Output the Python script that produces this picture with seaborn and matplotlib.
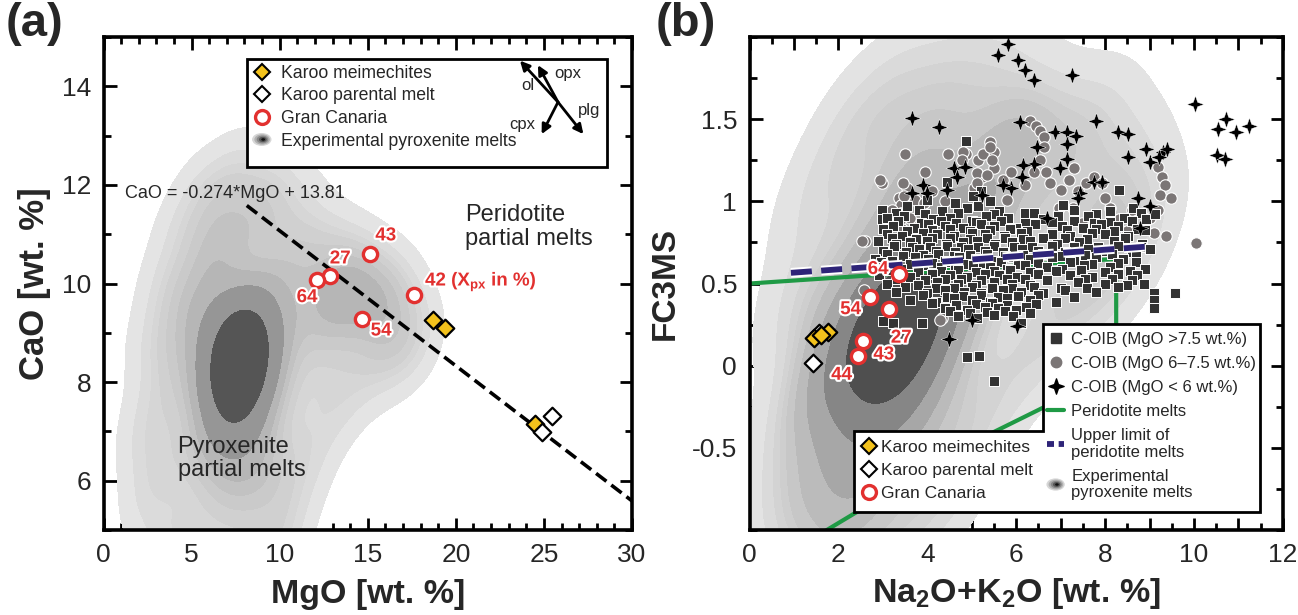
import numpy as np
import pandas as pd
import matplotlib
matplotlib.use("Agg")
import matplotlib.pyplot as plt
import seaborn as sns
from matplotlib.patches import Ellipse, Polygon, Rectangle
from matplotlib.legend_handler import HandlerBase
from matplotlib.lines import Line2D
from matplotlib.path import Path
from matplotlib.colors import LinearSegmentedColormap
from matplotlib.ticker import MultipleLocator, FixedLocator, FuncFormatter
import matplotlib.patheffects as pe

# ------------------------------------------------------------------ data (a)
karoo_mei_mgo = [18.68, 19.39, 24.5]
karoo_mei_cao = [9.25, 9.09, 7.15]
karoo_par_mgo = [25.44, 24.9]
karoo_par_cao = [7.31, 6.99]
gc_mgo = [15.15, 12.84, 12.14, 17.62, 14.65]
gc_cao = [10.60, 10.16, 10.08, 9.76, 9.29]
gc_labels_a = ["43", "27", "64", "42 (X$_{\\mathbf{px}}$ in %)", "54"]
fit_slope = -0.274
fit_intercept = 13.81
fit_mgo = [8.13, 30.0]

# estimated experimental pyroxenite melts (MgO, CaO) behind the density shading
exp_a = [
    (7.7, 8.4), (7.4, 8.1), (8.0, 8.7), (7.5, 8.9), (7.9, 8.0), (7.3, 8.6), (8.2, 8.3),
    (7.7, 7.7), (7.6, 9.3), (8.0, 9.0), (7.2, 7.9), (7.4, 7.4), (8.2, 7.8), (7.8, 8.5),
    (7.3, 9.1), (8.3, 8.9), (7.6, 8.0), (7.9, 9.5), (7.1, 8.4), (8.0, 7.2), (7.6, 8.6),
    (7.8, 8.2), (7.7, 9.0), (7.5, 7.8),
    (6.4, 9.6), (6.6, 10.4), (8.8, 10.0), (9.2, 9.2), (9.4, 8.3), (6.0, 8.8), (5.9, 7.6),
    (6.2, 6.8), (6.9, 6.6), (8.2, 6.5), (9.0, 7.0), (9.8, 9.8), (10.3, 8.8), (5.4, 9.5),
    (7.2, 10.9), (8.4, 11.2), (6.1, 11.0), (10.2, 10.6), (11.0, 9.6), (5.1, 6.6), (6.5, 5.9),
    (7.6, 5.8), (8.8, 6.0), (4.9, 7.8), (5.0, 8.9), (10.6, 7.8), (9.5, 6.3), (5.6, 10.3),
    (6.9, 11.8), (9.1, 11.4), (7.0, 7.0), (8.6, 7.5), (6.5, 8.2), (8.9, 8.6),
    (3.2, 6.2), (2.8, 7.5), (2.7, 8.8), (3.4, 10.0), (4.3, 11.1), (5.6, 11.9), (7.8, 12.4),
    (9.6, 12.1), (11.1, 11.6), (12.5, 10.9), (13.8, 10.5), (15.1, 10.2), (16.2, 9.9),
    (17.0, 9.5), (17.8, 8.9), (16.8, 8.5), (15.3, 8.3), (13.8, 7.7), (12.4, 7.1), (11.5, 6.3),
    (10.6, 5.5), (9.6, 4.9), (8.0, 4.7), (6.2, 4.7), (4.4, 5.1), (3.6, 4.5), (2.3, 6.8),
    (3.9, 8.4), (12.2, 9.2), (13.2, 9.6), (14.4, 9.3), (16.0, 9.1), (11.4, 10.5), (4.4, 9.6),
    (10.0, 4.3), (2.4, 5.5), (12.8, 8.4), (13.5, 10.2), (14.5, 9.8), (12.8, 9.6), (15.5, 9.6),
]

# ------------------------------------------------------------------ data (b)
karoo_mei_alk = [1.45, 1.77, 1.60]
karoo_mei_fc3 = [0.167, 0.207, 0.185]
karoo_par_alk = [1.43, 1.56]
karoo_par_fc3 = [0.017, 0.20]
gc_alk = [3.36, 2.71, 3.13, 2.55, 2.43]
gc_fc3 = [0.56, 0.417, 0.345, 0.15, 0.06]
gc_labels_b = ["64", "54", "27", "43", "44"]

perid_alk = [0.0, 8.25, 8.25, 6.72, 5.0, 1.0]
perid_fc3 = [0.50, 0.65, -0.62, -0.24, -0.47, -1.12]
upper_alk = [0.93, 9.01]
upper_fc3 = [0.565, 0.726]

coib_hi = [
    (4.86, 1.37), (4.44, 1.12), (5.2, 1.06), (8.31, 1.07), (2.99, 0.95), (2.99, 0.89),
    (4.0, 1.01), (4.62, 0.99), (5.02, 1.03), (5.42, 1.0), (7.05, 0.98), (3.55, 0.97),
    (3.82, 0.95), (4.32, 0.94), (4.9, 0.96), (5.62, 0.94), (6.2, 0.93), (7.3, 0.95), (8.1, 0.94),
    (8.62, 0.96), (5.15, 0.97),
    (3.3, 0.93), (3.95, 0.92), (4.7, 0.93), (5.5, 0.92), (6.4, 0.93), (7.8, 0.92), (8.8, 0.93),
    (3.1, 0.9), (3.48, 0.91), (4.12, 0.89), (4.52, 0.9), (5.0, 0.88), (5.32, 0.91), (5.82, 0.9),
    (6.6, 0.89), (7.62, 0.91), (8.42, 0.9), (8.92, 0.89), (9.12, 0.92), (6.95, 0.91),
    (3.35, 0.88), (3.85, 0.87), (4.3, 0.88), (4.65, 0.87), (5.1, 0.875), (5.65, 0.88),
    (6.2, 0.87), (6.8, 0.875), (7.3, 0.88), (7.75, 0.87), (8.1, 0.875), (8.6, 0.88),
    (3.22, 0.85), (3.7, 0.84), (4.02, 0.86), (4.4, 0.85), (4.8, 0.84), (5.2, 0.86), (5.5, 0.85),
    (6.0, 0.84), (6.42, 0.86), (7.02, 0.85), (7.5, 0.84), (7.9, 0.86), (8.3, 0.85), (8.72, 0.83),
    (3.0, 0.83), (3.55, 0.82), (4.1, 0.825), (4.5, 0.83), (4.95, 0.82), (5.4, 0.825),
    (5.85, 0.83), (6.25, 0.82), (7.15, 0.825), (7.8, 0.83), (8.2, 0.82), (8.9, 0.825),
    (3.1, 0.8), (3.42, 0.79), (3.9, 0.81), (4.22, 0.8), (4.6, 0.79), (5.0, 0.81), (5.3, 0.8),
    (5.72, 0.79), (6.1, 0.81), (6.8, 0.8), (7.22, 0.79), (7.7, 0.81), (8.0, 0.8), (8.52, 0.79),
    (3.2, 0.78), (3.75, 0.77), (4.1, 0.775), (4.5, 0.78), (4.95, 0.77), (5.35, 0.775),
    (5.75, 0.78), (6.15, 0.77), (6.6, 0.775), (7.1, 0.78), (7.6, 0.77), (8.45, 0.775),
    (2.9, 0.76), (3.3, 0.74), (3.62, 0.75), (4.0, 0.76), (4.42, 0.74), (4.8, 0.75), (5.12, 0.76),
    (5.52, 0.74), (5.9, 0.75), (6.3, 0.76), (6.92, 0.74), (7.42, 0.75), (8.2, 0.76), (8.82, 0.74),
    (3.25, 0.73), (3.65, 0.72), (4.05, 0.725), (4.45, 0.73), (4.75, 0.72), (5.15, 0.725),
    (5.5, 0.73), (5.95, 0.72), (6.35, 0.725), (6.8, 0.73), (7.3, 0.72), (7.85, 0.725),
    (8.3, 0.73), (8.8, 0.72),
    (3.0, 0.7), (3.52, 0.69), (3.82, 0.71), (4.2, 0.7), (4.62, 0.69), (4.92, 0.71), (5.3, 0.7),
    (5.7, 0.69), (6.12, 0.71), (6.5, 0.7), (7.1, 0.69), (7.62, 0.71), (8.02, 0.7), (8.6, 0.69),
    (9.02, 0.71),
    (3.1, 0.68), (3.45, 0.67), (3.9, 0.675), (4.25, 0.68), (4.6, 0.67), (4.95, 0.675),
    (5.35, 0.68), (5.75, 0.67), (6.15, 0.675), (6.6, 0.68), (7.0, 0.67), (7.55, 0.675),
    (8.15, 0.68), (8.7, 0.67),
    (2.82, 0.65), (3.2, 0.64), (3.72, 0.66), (4.02, 0.65), (4.4, 0.64), (4.72, 0.66), (5.1, 0.65),
    (5.52, 0.64), (5.92, 0.66), (6.3, 0.65), (7.3, 0.64), (7.8, 0.66), (8.4, 0.65), (6.8, 0.66),
    (2.95, 0.63), (3.6, 0.62), (4.1, 0.625), (4.5, 0.63), (4.85, 0.62), (5.25, 0.625),
    (5.65, 0.63), (6.05, 0.62), (6.5, 0.625), (7.2, 0.63), (7.7, 0.62), (8.3, 0.625), (8.7, 0.63),
    (3.0, 0.6), (3.4, 0.59), (3.9, 0.61), (4.3, 0.6), (4.62, 0.59), (5.02, 0.61), (5.4, 0.6),
    (5.8, 0.59), (6.2, 0.61), (6.7, 0.6), (7.02, 0.59), (7.52, 0.61), (8.1, 0.6), (8.9, 0.59),
    (3.2, 0.58), (3.8, 0.57), (4.3, 0.575), (4.7, 0.58), (5.1, 0.57), (5.5, 0.575),
    (5.85, 0.58), (6.3, 0.57), (6.9, 0.575), (7.45, 0.58), (8.0, 0.57), (8.55, 0.575),
    (2.92, 0.55), (3.6, 0.54), (4.1, 0.56), (4.5, 0.55), (4.9, 0.54), (5.3, 0.56), (5.62, 0.55),
    (6.02, 0.54), (6.5, 0.56), (7.2, 0.55), (7.7, 0.54), (8.3, 0.56), (8.72, 0.55),
    (3.3, 0.53), (3.95, 0.52), (4.4, 0.525), (4.75, 0.53), (5.2, 0.52), (5.8, 0.525),
    (6.2, 0.53), (6.7, 0.52), (7.55, 0.525), (8.15, 0.53), (8.6, 0.52),
    (3.1, 0.5), (3.8, 0.49), (4.22, 0.51), (4.7, 0.5), (5.1, 0.49), (5.5, 0.51), (5.9, 0.5),
    (6.3, 0.49), (7.4, 0.51), (8.0, 0.5), (8.5, 0.49), (8.88, 0.5),
    (3.5, 0.48), (4.2, 0.47), (4.6, 0.475), (5.0, 0.48), (5.45, 0.47), (5.9, 0.475),
    (6.4, 0.48), (7.0, 0.47), (7.6, 0.475), (8.3, 0.48),
    (3.3, 0.45), (4.0, 0.44), (4.4, 0.46), (4.82, 0.45), (5.2, 0.44), (5.7, 0.46), (6.1, 0.45),
    (6.6, 0.44), (7.1, 0.46), (7.8, 0.45), (9.1, 0.44),
    (3.9, 0.43), (4.45, 0.42), (4.8, 0.425), (5.2, 0.43), (5.6, 0.42), (6.05, 0.425),
    (6.5, 0.43), (7.3, 0.42),
    (3.6, 0.4), (4.2, 0.39), (4.6, 0.41), (5.0, 0.4), (5.4, 0.39), (5.8, 0.41), (6.3, 0.4),
    (6.9, 0.39), (9.57, 0.44), (9.1, 0.4),
    (4.1, 0.38), (4.65, 0.37), (5.1, 0.375), (5.45, 0.38), (5.8, 0.37), (6.45, 0.375),
    (4.4, 0.35), (4.9, 0.34), (5.3, 0.36), (5.6, 0.35), (6.0, 0.34), (6.22, 0.36), (9.1, 0.35),
    (4.5, 0.33), (4.95, 0.32), (5.35, 0.325), (5.75, 0.33), (6.3, 0.32),
    (4.7, 0.3), (5.12, 0.29), (5.5, 0.31), (5.92, 0.3), (6.1, 0.26),
    (3.0, 0.27), (3.22, 0.26), (3.87, 0.26), (4.9, 0.05), (5.16, 0.06), (5.49, -0.095),
]

coib_mid = [
    (2.99, 1.11), (3.5, 1.29), (2.6, 0.76), (3.36, 1.02), (3.4, 0.98), (3.4, 0.93), (3.38, 0.88),
    (3.42, 0.83), (3.55, 1.08), (3.73, 1.01), (3.92, 0.99), (4.1, 1.06), (4.86, 1.29),
    (5.13, 1.25), (5.42, 1.36), (5.51, 1.30), (5.51, 1.2), (5.23, 1.15), (5.04, 1.08),
    (5.7, 1.13), (5.88, 1.18), (5.79, 1.01), (6.3, 1.49), (6.44, 1.46), (6.54, 1.43),
    (6.63, 1.39), (6.63, 1.33), (6.54, 1.25), (6.4, 1.18), (6.68, 1.18), (6.77, 1.11),
    (7.0, 1.07), (7.19, 1.13), (7.38, 1.06), (7.56, 1.11), (7.75, 1.15), (7.94, 1.11),
    (6.96, 0.96), (7.28, 0.96), (7.47, 0.87), (8.12, 0.96), (8.31, 0.89), (8.5, 0.82),
    (9.2, 1.21), (9.29, 1.15), (9.34, 1.10), (9.24, 1.04), (9.48, 1.02), (9.2, 0.95),
    (9.1, 0.81), (9.38, 0.79), (10.05, 0.745), (4.32, 0.29), (2.57, 0.46), (2.93, 1.13),
    (3.95, 1.18), (4.47, 1.29), (4.81, 1.30), (4.77, 1.25), (5.26, 1.29), (5.41, 1.33),
    (5.45, 1.25), (3.46, 1.11), (3.48, 1.03), (2.52, 0.76), (4.29, 0.28), (5.11, 1.17),
    (5.34, 1.16), (5.11, 1.11), (3.2, 0.95), (3.6, 0.9), (4.4, 1.0), (6.2, 1.1), (7.3, 1.2),
    (8.0, 1.02), (8.6, 0.95), (9.0, 0.9),
]

coib_lo = [
    (5.81, 1.96), (5.60, 1.89), (6.05, 1.86), (6.2, 1.80), (6.41, 1.74), (7.25, 1.77),
    (3.66, 1.51), (4.27, 1.45), (6.09, 1.48), (7.8, 1.49),
    (6.87, 1.42), (7.14, 1.42), (7.35, 1.40), (7.14, 1.35), (6.46, 1.33),
    (8.3, 1.42), (8.52, 1.41), (8.92, 1.32), (9.31, 1.30), (9.39, 1.32), (8.52, 1.27),
    (9.01, 1.24), (9.22, 1.27),
    (10.03, 1.59), (10.72, 1.50), (10.55, 1.44), (10.95, 1.42), (11.25, 1.46), (10.53, 1.28),
    (10.71, 1.26),
    (7.14, 1.26), (6.99, 1.20), (6.41, 1.23), (6.16, 1.22), (6.12, 1.15),
    (7.74, 1.12), (7.92, 1.12), (7.44, 1.05), (7.38, 1.02), (8.75, 1.02), (9.01, 0.97),
    (6.69, 0.90), (8.79, 0.84), (6.01, 0.24),
    (4.59, 1.20), (4.85, 1.21), (3.91, 1.10), (3.99, 1.05), (3.65, 1.05), (4.44, 1.07),
    (5.0, 0.28), (4.48, 0.16), (4.67, 1.15), (5.88, 1.08), (5.23, 1.04), (5.70, 1.10),
]

# estimated experimental pyroxenite melts (Na2O+K2O, FC3MS)
exp_b = [
    (3.3, 0.3), (3.0, 0.15), (3.6, 0.42), (2.9, 0.0), (3.8, 0.22), (3.2, 0.5), (2.7, -0.15),
    (3.5, 0.05), (4.0, 0.45), (3.1, 0.35), (2.8, 0.25), (3.4, -0.1), (3.9, 0.6), (2.6, 0.1),
    (3.7, -0.05), (3.3, 0.2), (3.5, 0.3),
    (2.3, -0.35), (2.1, 0.05), (4.5, 0.65), (4.3, 0.1), (2.5, 0.55), (3.3, -0.4), (3.8, 0.95),
    (4.9, 0.9), (2.0, -0.65), (2.9, -0.6), (4.8, 0.35), (2.9, 0.95), (1.9, 0.3), (4.3, 1.2),
    (5.3, 0.6), (2.4, -0.9), (3.6, 1.3), (5.6, 1.1), (4.0, -0.3),
    (1.2, -0.3), (1.1, 0.4), (1.5, 1.0), (2.3, 1.45), (3.3, 1.7), (4.5, 1.78), (5.5, 1.75),
    (6.1, 1.45), (7.0, 1.4), (7.8, 1.45), (8.4, 1.2), (8.8, 0.9), (8.2, 0.55), (7.2, 0.35),
    (6.2, 0.05), (5.1, -0.35), (4.4, -0.75), (3.4, -1.05), (2.0, -1.2), (1.3, -0.95),
    (6.6, 0.9), (5.8, 1.35), (7.6, 0.8), (1.6, -0.1), (1.0, -0.7),
]

# ------------------------------------------------------------------ styling
sns.set_theme(style="white")
plt.rcParams["font.family"] = ["Liberation Sans", "DejaVu Sans"]
plt.rcParams["mathtext.fontset"] = "custom"
plt.rcParams["mathtext.rm"] = "Liberation Sans"
plt.rcParams["mathtext.it"] = "Liberation Sans:italic"
plt.rcParams["mathtext.bf"] = "Liberation Sans:bold"

RED = "#e2302f"
YEL = "#f3c21c"
SQ = "#333333"
CIRC = "#7b7676"
GREEN = "#1f9a45"
NAVY = "#2e2478"
grey_cmap = LinearSegmentedColormap.from_list("g", ["#e8e8e8", "#2c2c2c"])
kde_levels = [0.03, 0.09, 0.16, 0.24, 0.33, 0.43, 0.55, 0.68, 0.82, 1.0]
halo = [pe.withStroke(linewidth=3, foreground="white")]

# 4-pointed sparkle marker
_r = 0.36
star_verts = [(0, 1), (_r * 0.707, _r * 0.707), (1, 0), (_r * 0.707, -_r * 0.707),
              (0, -1), (-_r * 0.707, -_r * 0.707), (-1, 0), (-_r * 0.707, _r * 0.707), (0, 1)]
STAR = Path(star_verts, closed=True)


class BlobProxy:
    pass


class BlobHandler(HandlerBase):
    def create_artists(self, legend, orig_handle, xdescent, ydescent, width, height,
                       fontsize, trans):
        cx = 0.5 * width - xdescent
        cy = 0.5 * height - ydescent
        greys = ["#d6d6d6", "#b0b0b0", "#878787", "#555555", "#111111"]
        arts = []
        for i, g in enumerate(greys):
            f = 1.0 - i / len(greys)
            arts.append(Ellipse((cx + 0.08 * width * i / 4, cy), width * 1.1 * f,
                                height * 1.05 * f, facecolor=g, edgecolor="none",
                                transform=trans))
        return arts


fig = plt.figure(figsize=(12.98, 6.15), dpi=100)
AX_B, AX_H = 0.1382, 0.8016
ax1 = fig.add_axes([0.0798, AX_B, 0.4071, AX_H])
ax2 = fig.add_axes([0.5775, AX_B, 0.4108, AX_H])

# ------------------------------------------------------------------ panel (a)
dfa = pd.DataFrame(exp_a, columns=["MgO", "CaO"])
sns.kdeplot(data=dfa, x="MgO", y="CaO", fill=True, cmap=grey_cmap, levels=kde_levels,
            bw_adjust=0.75, gridsize=200, cut=4, ax=ax1, zorder=1)

fit_x = np.array(fit_mgo)
fit_y = fit_slope * fit_x + fit_intercept
ax1.plot(fit_x, fit_y, color="black", lw=2.6, dashes=(3.6, 1.7), zorder=3)

sns.scatterplot(x=gc_mgo, y=gc_cao, marker="o", s=105, color="white", edgecolor=RED,
                linewidth=2.4, ax=ax1, zorder=5)
sns.scatterplot(x=karoo_mei_mgo, y=karoo_mei_cao, marker="D", s=80, color=YEL,
                edgecolor="black", linewidth=1.6, ax=ax1, zorder=6)
sns.scatterplot(x=karoo_par_mgo, y=karoo_par_cao, marker="D", s=80, color="white",
                edgecolor="black", linewidth=1.6, ax=ax1, zorder=6)

offs_a = [(11, 13), (7.5, 12), (-7.5, -13), (8, 9.6), (14, -9)]
has_a = ["center", "center", "center", "left", "center"]
for xv, yv, lab, off, ha in zip(gc_mgo, gc_cao, gc_labels_a, offs_a, has_a):
    ax1.annotate(lab, (xv, yv), xytext=off, textcoords="offset points", ha=ha,
                 va="center", color=RED, fontsize=13.5, fontweight="bold",
                 path_effects=halo, zorder=7)

ax1.text(1.2, 11.83, "CaO = -0.274*MgO + 13.81", fontsize=13, va="center", ha="left",
         zorder=4)
ax1.text(20.5, 11.15, "Peridotite\npartial melts", fontsize=17, va="center", ha="left",
         linespacing=1.1, zorder=4)
ax1.text(4.2, 6.45, "Pyroxenite\npartial melts", fontsize=17, va="center", ha="left",
         linespacing=1.1, zorder=4)

ax1.set_xlim(0, 30)
ax1.set_ylim(5, 15)
ax1.xaxis.set_major_locator(MultipleLocator(5))
ax1.xaxis.set_minor_locator(MultipleLocator(1))
ax1.yaxis.set_major_locator(MultipleLocator(2))
ax1.yaxis.set_minor_locator(MultipleLocator(1))
ax1.set_xlabel("MgO [wt. %]", fontsize=24.5, fontweight="bold", labelpad=9)
ax1.set_ylabel("CaO [wt. %]", fontsize=25, fontweight="bold", labelpad=8)

# legend (a)
ax1.add_patch(Rectangle((0.271, 0.737), 0.682, 0.219, transform=ax1.transAxes,
                        facecolor="white", edgecolor="black", lw=2, zorder=9))
hand_a = [
    Line2D([], [], ls="none", marker="D", ms=8.5, mfc=YEL, mec="black", mew=1.5),
    Line2D([], [], ls="none", marker="D", ms=8.5, mfc="white", mec="black", mew=1.5),
    Line2D([], [], ls="none", marker="o", ms=10, mfc="white", mec=RED, mew=2.4),
    BlobProxy(),
]
labs_a = ["Karoo meimechites", "Karoo parental melt", "Gran Canaria",
          "Experimental pyroxenite melts"]
leg_a = ax1.legend(hand_a, labs_a, loc="upper left", bbox_to_anchor=(0.276, 0.951),
                   frameon=False, fontsize=12.7, handlelength=1.0, handletextpad=0.6,
                   labelspacing=0.32, borderpad=0.2, borderaxespad=0,
                   handler_map={BlobProxy: BlobHandler()})
leg_a.set_zorder(10)
for lab, tip in [("ol", (0.788, 0.952)), ("opx", (0.822, 0.943)),
                 ("cpx", (0.829, 0.803)), ("plg", (0.908, 0.803))]:
    ax1.annotate("", xy=tip, xytext=(0.860, 0.868), xycoords="axes fraction",
                 textcoords="axes fraction",
                 arrowprops=dict(arrowstyle="-|>", lw=2, color="black",
                                 mutation_scale=14, shrinkA=0, shrinkB=0), zorder=11)
for lab, pos in [("ol", (0.803, 0.901)), ("opx", (0.878, 0.926)),
                 ("cpx", (0.792, 0.822)), ("plg", (0.918, 0.851))]:
    ax1.text(pos[0], pos[1], lab, transform=ax1.transAxes, fontsize=12, ha="center",
             va="center", zorder=11)

# ------------------------------------------------------------------ panel (b)
dfb = pd.DataFrame(exp_b, columns=["alk", "fc3ms"])
sns.kdeplot(data=dfb, x="alk", y="fc3ms", fill=True, cmap=grey_cmap, levels=kde_levels,
            bw_adjust=0.8, gridsize=200, cut=4, ax=ax2, zorder=1)

ax2.plot(perid_alk, perid_fc3, color=GREEN, lw=3, zorder=2, solid_joinstyle="miter")

d_hi = pd.DataFrame(coib_hi, columns=["alk", "fc3ms"])
d_mid = pd.DataFrame(coib_mid, columns=["alk", "fc3ms"])
d_lo = pd.DataFrame(coib_lo, columns=["alk", "fc3ms"])
sns.scatterplot(data=d_mid, x="alk", y="fc3ms", marker="o", s=68, color=CIRC,
                edgecolor="white", linewidth=0.8, ax=ax2, zorder=3)
sns.scatterplot(data=d_hi, x="alk", y="fc3ms", marker="s", s=58, color=SQ,
                edgecolor="white", linewidth=0.7, ax=ax2, zorder=4)
sns.scatterplot(data=d_lo, x="alk", y="fc3ms", marker=STAR, s=150, color="black",
                edgecolor="white", linewidth=0.3, ax=ax2, zorder=5)

ax2.plot(upper_alk, upper_fc3, color=NAVY, lw=4.2, dashes=(3.6, 1.6), zorder=6,
         solid_capstyle="butt", dash_capstyle="butt",
         path_effects=[pe.Stroke(linewidth=7, foreground="white"), pe.Normal()])

sns.scatterplot(x=gc_alk, y=gc_fc3, marker="o", s=105, color="white", edgecolor=RED,
                linewidth=2.4, ax=ax2, zorder=7)
sns.scatterplot(x=karoo_par_alk, y=karoo_par_fc3, marker="D", s=80, color="white",
                edgecolor="black", linewidth=1.6, ax=ax2, zorder=7)
sns.scatterplot(x=karoo_mei_alk, y=karoo_mei_fc3, marker="D", s=80, color=YEL,
                edgecolor="black", linewidth=1.6, ax=ax2, zorder=8)

offs_b = [(-15, 3), (-14, -9), (9, -21), (15, -10), (-11.5, -14)]
for xv, yv, lab, off in zip(gc_alk, gc_fc3, gc_labels_b, offs_b):
    ax2.annotate(lab, (xv, yv), xytext=off, textcoords="offset points", ha="center",
                 va="center", color=RED, fontsize=13.5, fontweight="bold",
                 path_effects=halo, zorder=9)

ax2.set_xlim(0, 12)
ax2.set_ylim(-1, 2)
ax2.xaxis.set_major_locator(MultipleLocator(1))
ax2.xaxis.set_minor_locator(MultipleLocator(0.5))
ax2.xaxis.set_major_formatter(FuncFormatter(lambda v, p: f"{v:g}" if round(v) % 2 == 0 else ""))
ax2.yaxis.set_major_locator(FixedLocator([-0.5, 0, 0.5, 1, 1.5]))
ax2.yaxis.set_minor_locator(MultipleLocator(0.25))
ax2.yaxis.set_major_formatter(FuncFormatter(lambda v, p: f"{v:g}"))
ax2.set_xlabel("Na$_\\mathbf{2}$O+K$_\\mathbf{2}$O [wt. %]", fontsize=24.5,
               fontweight="bold", labelpad=7)
ax2.set_ylabel("FC3MS", fontsize=24, fontweight="bold", labelpad=8)

# legend (b): L-shaped frame
ax2.add_patch(Polygon([(0.551, 0.417), (0.957, 0.417), (0.957, 0.037), (0.196, 0.037),
                       (0.196, 0.20), (0.551, 0.20)], closed=True, transform=ax2.transAxes,
                      facecolor="white", edgecolor="black", lw=2, zorder=10))
hand_r = [
    Line2D([], [], ls="none", marker="s", ms=7, mfc=SQ, mec=SQ),
    Line2D([], [], ls="none", marker="o", ms=7.5, mfc=CIRC, mec=CIRC),
    Line2D([], [], ls="none", marker=STAR, ms=11, mfc="black", mec="black"),
    Line2D([], [], color=GREEN, lw=3),
    Line2D([], [], color=NAVY, lw=4.2, dashes=(1.2, 0.8)),
    BlobProxy(),
]
labs_r = ["C-OIB (MgO >7.5 wt.%)", "C-OIB (MgO 6\u20137.5 wt.%)", "C-OIB (MgO < 6 wt.%)",
          "Peridotite melts", "Upper limit of\nperidotite melts",
          "Experimental\npyroxenite melts"]
leg_r = ax2.legend(hand_r, labs_r, loc="upper left", bbox_to_anchor=(0.552, 0.409),
                   frameon=False, fontsize=12, handlelength=1.0, handletextpad=0.45,
                   labelspacing=0.55, borderpad=0.2, borderaxespad=0,
                   handler_map={BlobProxy: BlobHandler()})
for t in leg_r.get_texts():
    t.set_linespacing(1.1)
leg_r.set_zorder(11)
ax2.add_artist(leg_r)

hand_l = [
    Line2D([], [], ls="none", marker="D", ms=8.5, mfc=YEL, mec="black", mew=1.5),
    Line2D([], [], ls="none", marker="D", ms=8.5, mfc="white", mec="black", mew=1.5),
    Line2D([], [], ls="none", marker="o", ms=10, mfc="white", mec=RED, mew=2.4),
]
labs_l = ["Karoo meimechites", "Karoo parental melt", "Gran Canaria"]
leg_l = ax2.legend(hand_l, labs_l, loc="upper left", bbox_to_anchor=(0.203, 0.19),
                   frameon=False, fontsize=12.5, handlelength=0.9, handletextpad=0.25,
                   labelspacing=0.45, borderpad=0.2, borderaxespad=0)
leg_l.set_zorder(11)

# ------------------------------------------------------------------ frames & ticks
for ax in (ax1, ax2):
    for sp in ax.spines.values():
        sp.set_linewidth(2.6)
        sp.set_color("black")
        sp.set_zorder(20)
    ax.tick_params(which="both", direction="in", top=True, right=True, bottom=True,
                   left=True, color="black", width=2, labelsize=19, pad=9)
    ax.tick_params(which="major", length=9)
    ax.tick_params(which="minor", length=5)
    ax.set_facecolor("white")

fig.text(0.004, 0.997, "(a)", fontsize=34, fontweight="bold", va="top", ha="left")
fig.text(0.505, 0.997, "(b)", fontsize=34, fontweight="bold", va="top", ha="left")

fig.savefig("out.png", dpi=100)
